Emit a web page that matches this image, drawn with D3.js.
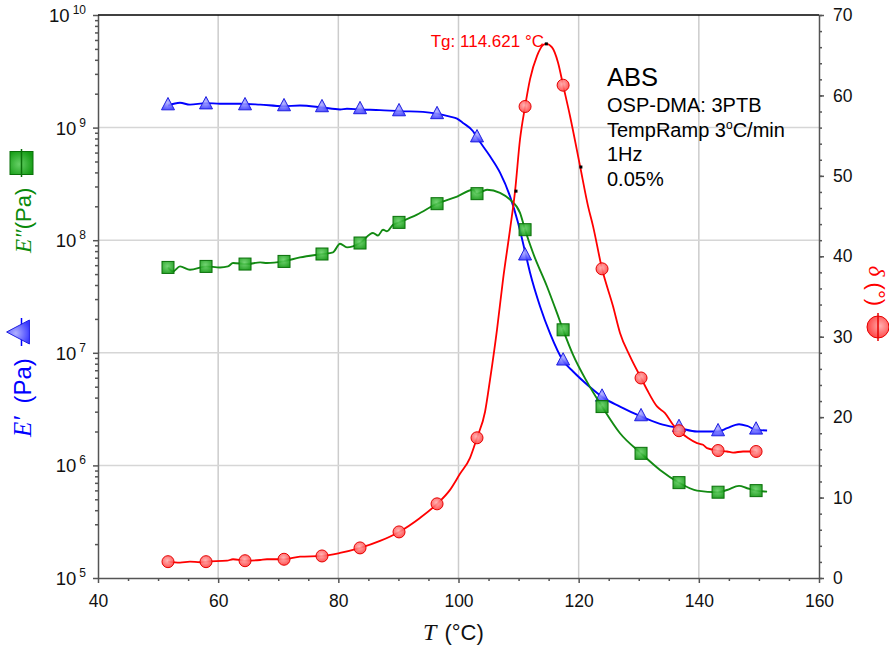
<!DOCTYPE html>
<html>
<head>
<meta charset="utf-8">
<script src="https://cdn.jsdelivr.net/npm/d3@7"></script>
<style>
  body { margin: 0; background: #fff; }
  svg { display: block; }
  text { font-family: "Liberation Sans", Arial, sans-serif; }
</style>
</head>
<body>
<div id="chart"></div>
<script>
// marker positions (every n-th raw point)
const markT = [51.65, 57.98, 64.47, 70.96, 77.28, 83.61, 90.10, 96.43, 103.08, 111.08, 117.41, 123.89, 130.38, 136.70, 143.20, 149.53];
const storageMk = [1.57e9, 1.60e9, 1.57e9, 1.54e9, 1.51e9, 1.45e9, 1.39e9, 1.31e9, 8.15e8, 7.28e7, 8.5e6, 4.06e6, 2.72e6, 2.18e6, 2.00e6, 2.07e6];
const lossMk = [5.73e7, 5.85e7, 6.14e7, 6.48e7, 7.54e7, 9.44e7, 1.44e8, 2.11e8, 2.59e8, 1.24e8, 1.60e7, 3.33e6, 1.28e6, 7.03e5, 5.78e5, 5.97e5];
const deltaMk = [2.03, 2.03, 2.15, 2.33, 2.74, 3.74, 5.73, 9.22, 17.43, 58.62, 61.27, 38.44, 24.87, 18.31, 15.85, 15.73];

// curves
const storageT = [51.65, 53.65, 55.31, 57.98, 60.31, 63.64, 66.98, 70.79, 73.62, 77.28, 80.28, 81.44, 83.61, 86.94, 90.27, 94.09, 96.43, 98.59, 99.76, 100.75, 102.42, 103.08, 105.25, 106.91, 108.58, 109.91, 111.08, 111.91, 113.58, 115.25, 117.41, 119.07, 121.90, 123.89, 126.88, 130.38, 133.54, 136.87, 139.70, 143.20, 144.70, 146.69, 148.03, 149.53, 151.36];
const storageE = [1.57e9, 1.66e9, 1.60e9, 1.65e9, 1.63e9, 1.63e9, 1.60e9, 1.55e9, 1.57e9, 1.51e9, 1.45e9, 1.47e9, 1.45e9, 1.43e9, 1.40e9, 1.38e9, 1.33e9, 1.25e9, 1.20e9, 1.10e9, 9.27e8, 8.15e8, 5.56e8, 3.98e8, 2.45e8, 1.43e8, 7.91e7, 5.14e7, 2.58e7, 1.48e7, 8.49e6, 6.82e6, 4.95e6, 4.06e6, 3.33e6, 2.72e6, 2.34e6, 2.14e6, 2.00e6, 2.00e6, 2.14e6, 2.32e6, 2.24e6, 2.07e6, 2.04e6];

const lossT = [51.65, 52.48, 53.65, 55.31, 57.98, 60.31, 61.64, 62.47, 64.80, 66.98, 68.13, 70.79, 73.62, 77.28, 79.11, 80.28, 81.44, 83.61, 85.77, 86.60, 87.44, 88.10, 89.10, 90.10, 93.10, 96.43, 99.76, 102.42, 103.08, 104.75, 106.91, 108.58, 110.24, 111.08, 112.41, 114.73, 116.40, 117.41, 119.07, 121.39, 123.89, 126.88, 130.38, 133.54, 136.70, 139.70, 143.20, 144.70, 146.69, 148.03, 149.53, 151.36];
const lossE = [5.73e7, 5.28e7, 5.85e7, 5.47e7, 5.85e7, 5.73e7, 5.85e7, 6.27e7, 6.14e7, 6.35e7, 6.27e7, 6.48e7, 7.03e7, 7.54e7, 7.80e7, 9.31e7, 8.63e7, 9.44e7, 1.16e8, 1.10e8, 1.24e8, 1.20e8, 1.37e8, 1.44e8, 1.69e8, 2.11e8, 2.44e8, 2.81e8, 2.59e8, 2.81e8, 2.63e8, 2.29e8, 1.75e8, 1.24e8, 7.69e7, 3.88e7, 2.25e7, 1.60e7, 9.59e6, 5.52e6, 3.33e6, 1.93e6, 1.28e6, 9.12e5, 7.03e5, 5.97e5, 5.78e5, 6.05e5, 6.58e5, 6.27e5, 5.97e5, 5.85e5];

const deltaT = [51.65, 53.65, 55.31, 56.98, 57.98, 61.47, 62.47, 64.47, 66.98, 68.13, 70.96, 73.62, 77.28, 80.28, 83.61, 86.94, 90.10, 93.59, 96.43, 98.59, 100.25, 101.92, 103.08, 104.42, 105.25, 106.41, 107.41, 108.58, 109.41, 110.24, 111.08, 111.91, 113.07, 114.07, 114.621, 115.57, 116.56, 117.41, 118.56, 120.23, 121.56, 122.39, 123.89, 125.72, 126.88, 128.55, 130.38, 131.38, 133.04, 134.37, 135.71, 136.70, 138.20, 139.70, 140.70, 141.36, 143.20, 144.69, 145.69, 147.36, 149.53];
const deltaV = [2.03, 1.91, 2.03, 1.96, 2.03, 2.15, 2.33, 2.15, 2.24, 2.33, 2.33, 2.65, 2.74, 3.11, 3.74, 4.61, 5.73, 7.47, 9.22, 10.96, 12.95, 14.94, 17.43, 20.67, 24.66, 30.88, 37.11, 43.34, 48.07, 54.55, 58.62, 62.02, 64.92, 66.25, 66.41, 65.97, 64.10, 61.27, 57.45, 51.22, 46.24, 43.75, 38.44, 33.79, 30.47, 27.56, 24.87, 23.41, 21.33, 20.51, 19.05, 18.31, 17.40, 16.77, 16.56, 16.15, 15.85, 15.73, 15.60, 15.73, 15.73];

// small black points on the delta curve
const dotT = [109.57, 114.621, 120.37];
const dotV = [48.1, 66.41, 51.1];

const xTicks = [40, 60, 80, 100, 120, 140, 160];
const yLeftTicks = [1e5, 1e6, 1e7, 1e8, 1e9, 1e10];
const yRightTicks = [0, 10, 20, 30, 40, 50, 60, 70];
const infoLines = ['OSP-DMA: 3PTB', 'TempRamp 3', '1Hz', '0.05%'];

const W = 889, H = 649;
const svg = d3.select('#chart').append('svg').attr('width', W).attr('height', H);

const x = d3.scaleLinear().domain([40, 160]).range([98, 819]);
const yL = d3.scaleLog().domain([1e5, 1e10]).range([578, 15]);
const yR = d3.scaleLinear().domain([0, 70]).range([578, 15]);

// gradients for the markers
const defs = svg.append('defs');
function grad(id, c0, c1) {
    const g = defs.append('radialGradient').attr('id', id)
        .attr('cx', '45%').attr('cy', '40%').attr('r', '65%');
    g.append('stop').attr('offset', '0%').attr('stop-color', c0);
    g.append('stop').attr('offset', '100%').attr('stop-color', c1);
}
grad('gBlue', '#b0b0ff', '#3a3aff');
grad('gGreen', '#66d066', '#129a12');
grad('gRed', '#ffb0b0', '#ff3a3a');

// grid
svg.append('g').selectAll('line').data([60, 80, 100, 120, 140]).join('line')
    .attr('x1', d => x(d)).attr('x2', d => x(d)).attr('y1', 15).attr('y2', 578)
    .attr('stroke', '#cccccc').attr('stroke-width', 1.5);
svg.append('g').selectAll('line').data([1e6, 1e7, 1e8, 1e9]).join('line')
    .attr('x1', 98).attr('x2', 819).attr('y1', d => yL(d)).attr('y2', d => yL(d))
    .attr('stroke', '#d6d6d6').attr('stroke-width', 1.5);

// axes
function styleAxis(g) {
    g.attr('font-family', null).attr('font-size', null);
    g.selectAll('path, line').attr('stroke', '#555').attr('stroke-width', 1.5);
    g.selectAll('text').attr('fill', '#111');
}

const xMinor = d3.range(45, 160, 5).filter(d => d % 20 !== 0);
svg.append('g').attr('transform', 'translate(0,578)')
    .call(d3.axisBottom(x).tickValues(xMinor).tickSize(3).tickFormat(''))
    .call(styleAxis).select('.domain').remove();
const gx = svg.append('g').attr('transform', 'translate(0,578)')
    .call(d3.axisBottom(x).tickValues(xTicks).tickSize(5).tickSizeOuter(0))
    .call(styleAxis);
gx.selectAll('text').attr('dy', null).attr('y', 29).attr('font-size', 17.5);

const yMinor = [];
yLeftTicks.slice(0, -1).forEach(p => d3.range(2, 10).forEach(k => yMinor.push(k * p)));
svg.append('g').attr('transform', 'translate(98,0)')
    .call(d3.axisLeft(yL).tickValues(yMinor).tickSize(3).tickFormat(''))
    .call(styleAxis).select('.domain').remove();
const gyl = svg.append('g').attr('transform', 'translate(98,0)')
    .call(d3.axisLeft(yL).tickValues(yLeftTicks).tickSize(5).tickSizeOuter(0).tickFormat(() => ''))
    .call(styleAxis);
gyl.selectAll('.tick text').each(function (d) {
    const t = d3.select(this).attr('x', -12).attr('dy', null).attr('y', 6.5).attr('text-anchor', 'end');
    t.append('tspan').attr('font-size', 18.5).text('10');
    t.append('tspan').attr('font-size', 12).attr('dx', 3).attr('dy', -8).text(Math.round(Math.log10(d)));
});

svg.append('g').attr('transform', 'translate(819,0)')
    .call(d3.axisRight(yR).tickValues(d3.range(0, 71, 2)).tickSize(3).tickFormat(''))
    .call(styleAxis).select('.domain').remove();
const gyr = svg.append('g').attr('transform', 'translate(819,0)')
    .call(d3.axisRight(yR).tickValues(yRightTicks).tickSize(5).tickPadding(9).tickSizeOuter(0))
    .call(styleAxis);
gyr.selectAll('text').attr('font-size', 17.5);

svg.append('line').attr('x1', 98).attr('x2', 819).attr('y1', 15).attr('y2', 15)
    .attr('stroke', '#000').attr('stroke-width', 1.5);

// series
const lineL = d3.line().x(d => x(d[0])).y(d => yL(d[1])).curve(d3.curveMonotoneX);
const lineR = d3.line().x(d => x(d[0])).y(d => yR(d[1])).curve(d3.curveMonotoneX);

const triPath = s => `M0,${-s * 0.62}L${s * 0.5},${s * 0.33}L${-s * 0.5},${s * 0.33}Z`;

function drawSeries(ts, vs, line, color, width) {
    svg.append('path').datum(d3.zip(ts, vs)).attr('d', line)
        .attr('fill', 'none').attr('stroke', color).attr('stroke-width', width);
}

drawSeries(storageT, storageE, lineL, '#0000ff', 1.9);
svg.append('g').selectAll('path').data(d3.zip(markT, storageMk)).join('path')
    .attr('d', triPath(13))
    .attr('transform', d => `translate(${x(d[0])},${yL(d[1])})`)
    .attr('fill', 'url(#gBlue)').attr('fill-opacity', 0.9)
    .attr('stroke', '#2020e0').attr('stroke-width', 1);

drawSeries(lossT, lossE, lineL, '#128a12', 1.9);
svg.append('g').selectAll('rect').data(d3.zip(markT, lossMk)).join('rect')
    .attr('x', d => x(d[0]) - 6).attr('y', d => yL(d[1]) - 6)
    .attr('width', 12).attr('height', 12)
    .attr('fill', 'url(#gGreen)').attr('fill-opacity', 0.9)
    .attr('stroke', '#0a700a').attr('stroke-width', 1);

drawSeries(deltaT, deltaV, lineR, '#ff0000', 1.8);
svg.append('g').selectAll('circle').data(d3.zip(markT, deltaMk)).join('circle')
    .attr('cx', d => x(d[0])).attr('cy', d => yR(d[1])).attr('r', 6)
    .attr('fill', 'url(#gRed)').attr('fill-opacity', 0.9)
    .attr('stroke', '#e60000').attr('stroke-width', 1);

svg.append('g').selectAll('rect').data(d3.zip(dotT, dotV)).join('rect')
    .attr('x', d => x(d[0]) - 1.5).attr('y', d => yR(d[1]) - 1.5)
    .attr('width', 3).attr('height', 3).attr('fill', '#000');

// Tg annotation
svg.append('text').attr('x', 544).attr('y', 47).attr('text-anchor', 'end')
    .attr('font-size', 17).attr('fill', '#ff0000').text('Tg: 114.621 °C');

// info block
svg.append('text').attr('x', 607).attr('y', 86).attr('font-size', 25.5).attr('fill', '#000').text('ABS');
infoLines.forEach((s, i) => {
    const t = svg.append('text').attr('x', 607).attr('y', 112 + i * 24.5)
        .attr('font-size', 20).attr('fill', '#000').text(s);
    if (i === 1) {
        t.append('tspan').attr('font-size', 12).attr('dy', -8).text('o');
        t.append('tspan').attr('dy', 8).text('C/min');
    }
});

// x label
const xl = svg.append('text').attr('x', 423).attr('y', 640).attr('fill', '#111');
xl.append('tspan').attr('font-family', '"Liberation Serif", serif').attr('font-style', 'italic')
    .attr('font-size', 24).text('T');
xl.append('tspan').attr('font-size', 22).attr('dx', 2).text(' (°C)');

// left label (rotated)
const gl = svg.append('g').attr('transform', 'rotate(-90)');
const tb = gl.append('text').attr('x', -437).attr('y', 31).attr('fill', '#0000ff');
tb.append('tspan').attr('font-family', '"Liberation Serif", serif').attr('font-style', 'italic')
    .attr('font-size', 25).text('E′');
tb.append('tspan').attr('font-size', 24).attr('dx', 6).text(' (Pa)');
gl.append('line').attr('x1', -346).attr('x2', -318).attr('y1', 21.5).attr('y2', 21.5)
    .attr('stroke', '#0000ff').attr('stroke-width', 1.5);
gl.append('path').attr('d', triPath(24))
    .attr('transform', 'translate(-332,21.5)')
    .attr('fill', 'url(#gBlue)').attr('stroke', '#2020e0').attr('stroke-width', 1);

const tg = gl.append('text').attr('x', -253).attr('y', 31).attr('fill', '#0a8a0a');
tg.append('tspan').attr('font-family', '"Liberation Serif", serif').attr('font-style', 'italic')
    .attr('font-size', 23).text('E″');
tg.append('tspan').attr('font-size', 22).text('(Pa)');
gl.append('rect').attr('x', -163 - 11.5).attr('y', 10).attr('width', 23).attr('height', 23)
    .attr('fill', 'url(#gGreen)').attr('stroke', '#0a700a').attr('stroke-width', 1);
gl.append('line').attr('x1', -177).attr('x2', -149).attr('y1', 21.5).attr('y2', 21.5)
    .attr('stroke', '#0a700a').attr('stroke-width', 1.5);

// right label (rotated)
const gr = svg.append('g').attr('transform', 'rotate(90)');
const tr = gr.append('text').attr('x', 306).attr('y', -869).attr('text-anchor', 'end').attr('fill', '#ff0000');
tr.append('tspan').attr('font-family', '"Liberation Serif", serif').attr('font-style', 'italic')
    .attr('font-size', 23).text('δ');
tr.append('tspan').attr('font-size', 22).text(' (°)');
gr.append('circle').attr('cx', 327).attr('cy', -878).attr('r', 11)
    .attr('fill', 'url(#gRed)').attr('stroke', '#e60000').attr('stroke-width', 1);
gr.append('line').attr('x1', 313).attr('x2', 341).attr('y1', -878).attr('y2', -878)
    .attr('stroke', '#e60000').attr('stroke-width', 1.5);
</script>
</body>
</html>
